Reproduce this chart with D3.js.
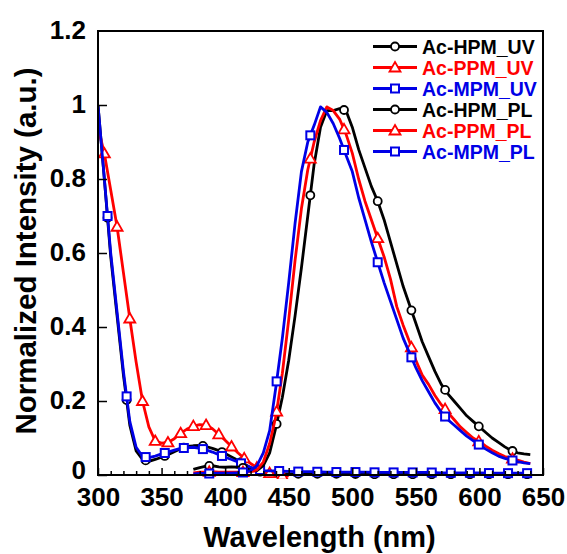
<!DOCTYPE html>
<html><head><meta charset="utf-8">
<script src="https://cdn.jsdelivr.net/npm/d3@7"></script>
<style>
body{margin:0;background:#fff}
svg{display:block}
text{font-family:"Liberation Sans",Arial,Helvetica,sans-serif;font-weight:bold}
</style>
</head><body>
<svg id="chart" width="567" height="554"></svg>
<script>
// ---------------- DATA ----------------
const seriesNames = ["Ac-HPM_UV","Ac-PPM_UV","Ac-MPM_UV","Ac-HPM_PL","Ac-PPM_PL","Ac-MPM_PL"];
const xTicks = [300,350,400,450,500,550,600,650];
const yTicks = [0,0.2,0.4,0.6,0.8,1.0,1.2];

// UV absorption (HPM, MPM)
const uvWavelength = [300,305,310,315,320,325,330,335,340,345,350,355,360,365,370,375,380,385,390,395,400,405,410,415,420,425,430,435,
  440,450,460,470,480,490,500,510,520,530,540,550,560,570,580,590,600,610,620,630,640];
const hpmUV = [1.0,0.80,0.59,0.43,0.27,0.135,0.065,0.042,0.037,0.042,0.048,0.055,0.063,0.071,0.077,0.079,0.080,0.077,0.072,0.066,0.058,0.049,0.040,0.030,0.020,0.012,0.006,0.004,
  0.003,0.003,0.003,0.003,0.003,0.003,0.003,0.002,0.002,0.002,0.002,0.002,0.002,0.002,0.002,0.002,0.002,0.002,0.002,0.002,0.002];
const mpmUV = [1.0,0.80,0.60,0.44,0.28,0.145,0.075,0.050,0.047,0.051,0.057,0.062,0.067,0.072,0.074,0.075,0.072,0.068,0.062,0.055,0.048,0.042,0.035,0.028,0.021,0.015,0.012,0.011,
  0.011,0.010,0.009,0.009,0.008,0.008,0.008,0.008,0.007,0.007,0.007,0.007,0.007,0.006,0.006,0.006,0.006,0.005,0.005,0.005,0.005];
// UV absorption (PPM)
const ppmUVWavelength = [300,305,310,315,320,325,330,335,340,345,350,355,360,365,370,375,380,385,390,395,400,405,410,415,420,425,430,435,440,445,450];
const ppmUV = [0.94,0.869,0.77,0.671,0.547,0.423,0.305,0.200,0.130,0.092,0.086,0.088,0.098,0.113,0.124,0.132,0.136,0.135,0.125,0.110,0.094,0.077,0.060,0.045,0.031,0.020,0.011,0.005,0.001,-0.002,-0.002];

// PL emission
const plWavelength = [375,380,385,390,395,400,405,410,415,420,425,430,435,440,445,450,455,460,465,470,475,480,485,490,495,500,
  505,510,515,520,525,530,535,540,545,550,555,560,565,570,575,580,585,590,595,600,605,610,615,620,625,630,635,640];
const hpmPL = [0.015,0.020,0.024,0.025,0.022,0.021,0.022,0.021,0.019,0.013,0.012,0.025,0.060,0.130,0.210,0.310,0.430,0.560,0.700,0.840,0.940,0.985,0.985,0.990,0.985,0.940,
  0.880,0.830,0.780,0.740,0.690,0.630,0.570,0.510,0.460,0.410,0.360,0.320,0.280,0.245,0.220,0.200,0.180,0.160,0.145,0.130,0.115,0.100,0.088,0.076,0.066,0.060,0.057,0.055];
const ppmPL = [0.006,0.008,0.008,0.009,0.008,0.008,0.008,0.008,0.008,0.009,0.014,0.035,0.085,0.160,0.275,0.420,0.580,0.720,0.825,0.900,0.958,0.995,0.985,0.962,0.922,0.870,
  0.800,0.740,0.690,0.640,0.590,0.530,0.455,0.405,0.360,0.310,0.270,0.245,0.215,0.190,0.170,0.150,0.130,0.115,0.100,0.090,0.078,0.067,0.058,0.050,0.045,0.040,0.035,0.031];
const mpmPL = [0.003,0.004,0.004,0.004,0.005,0.005,0.005,0.006,0.007,0.012,0.025,0.060,0.120,0.240,0.370,0.520,0.680,0.820,0.900,0.945,0.995,0.980,0.950,0.910,0.865,0.820,
  0.750,0.690,0.630,0.575,0.520,0.470,0.420,0.370,0.330,0.290,0.255,0.225,0.195,0.170,0.150,0.135,0.120,0.105,0.093,0.081,0.070,0.060,0.051,0.045,0.040,0.036,0.033,0.031];

// wavelengths where symbols are drawn
const uvMarkerWavelength = [307.5,322.5,337.5,352.5,367.5,382.5,397.5,412.5,427.5,442.5,457.5,472.5,487.5,502.5,517.5,532.5,547.5,562.5,577.5,592.5,607.5,622.5,637.5];
const ppmUVMarkerWavelength = [305,315,325,335,345,355,365,375,385,395,405,415,425,435,445];
const plMarkerWavelength = [387.5,414,440.5,467,493.5,520,546.5,573,599.5,626];

// ---------------- CHART ----------------
const svg = d3.select("#chart");
const mLeft = 98, mRight = 543, mTop = 31, mBottom = 475;
const x = d3.scaleLinear().domain([300,650]).range([mLeft,mRight]);
const y = d3.scaleLinear().domain([0,1.2]).range([mBottom,mTop]);

const BLACK = "#000000", RED = "#ff0000", BLUE = "#0000e6";

const series = [
  {name:seriesNames[0], wl:uvWavelength, v:hpmUV, color:BLACK, shape:"circle", marks:uvMarkerWavelength},
  {name:seriesNames[1], wl:ppmUVWavelength, v:ppmUV, color:RED, shape:"triangle", marks:ppmUVMarkerWavelength},
  {name:seriesNames[2], wl:uvWavelength, v:mpmUV, color:BLUE, shape:"square", marks:uvMarkerWavelength},
  {name:seriesNames[3], wl:plWavelength, v:hpmPL, color:BLACK, shape:"circle", marks:plMarkerWavelength},
  {name:seriesNames[4], wl:plWavelength, v:ppmPL, color:RED, shape:"triangle", marks:plMarkerWavelength},
  {name:seriesNames[5], wl:plWavelength, v:mpmPL, color:BLUE, shape:"square", marks:plMarkerWavelength}
];

function interp(wl, v, w){
  for(let i=0;i<wl.length-1;i++){
    if(w>=wl[i] && w<=wl[i+1]){
      const t=(w-wl[i])/(wl[i+1]-wl[i]);
      return v[i]+t*(v[i+1]-v[i]);
    }
  }
  return v[v.length-1];
}

function drawMarker(g, shape, cx, cy, color){
  if(shape==="circle"){
    g.append("circle").attr("cx",cx).attr("cy",cy).attr("r",4)
      .attr("fill","#fff").attr("stroke",color).attr("stroke-width",1.8);
  } else if(shape==="square"){
    g.append("rect").attr("x",cx-4).attr("y",cy-4).attr("width",8).attr("height",8)
      .attr("fill","#fff").attr("stroke",color).attr("stroke-width",2);
  } else {
    g.append("path").attr("d",`M${cx},${cy-5.5}L${cx+5.5},${cy+4}L${cx-5.5},${cy+4}Z`)
      .attr("fill","#fff").attr("stroke",color).attr("stroke-width",1.8).attr("stroke-linejoin","miter");
  }
}

// clip
svg.append("defs").append("clipPath").attr("id","clip")
  .append("rect").attr("x",mLeft).attr("y",mTop).attr("width",mRight-mLeft).attr("height",mBottom-mTop+4);

const plot = svg.append("g").attr("clip-path","url(#clip)");
const line = d3.line().x(d=>x(d[0])).y(d=>y(d[1]));

series.forEach(s=>{
  const pts = s.wl.map((w,i)=>[w,s.v[i]]);
  plot.append("path").datum(pts).attr("d",line)
    .attr("fill","none").attr("stroke",s.color).attr("stroke-width",2.8).attr("stroke-linejoin","round");
  const mg = plot.append("g");
  s.marks.forEach(w=>{
    drawMarker(mg, s.shape, x(w), y(interp(s.wl,s.v,w)), s.color);
  });
});

// axes
const xMinor = d3.range(310,650,10).filter(v=>v%50!==0);
svg.append("g").attr("transform",`translate(0,${mBottom})`)
  .call(d3.axisBottom(x).tickValues(xMinor).tickSize(-4).tickFormat(""))
  .call(g=>g.select(".domain").remove())
  .call(g=>g.selectAll("line").attr("stroke","#000").attr("stroke-width",1.5));

const xAxis = svg.append("g").attr("transform",`translate(0,${mBottom})`)
  .call(d3.axisBottom(x).tickValues(xTicks).tickSize(-7).tickPadding(13).tickFormat(d3.format("d")))
  .call(g=>g.select(".domain").remove());
xAxis.selectAll("line").attr("stroke","#000").attr("stroke-width",1.5);
xAxis.selectAll("text").attr("font-size",26).attr("fill","#000")
  .style("font-family",'"Liberation Sans",Arial,sans-serif').style("font-weight","bold");

const yAxis = svg.append("g").attr("transform",`translate(${mLeft},0)`)
  .call(d3.axisLeft(y).tickValues(yTicks.filter(v=>v<1.2)).tickSize(-9).tickPadding(12)
    .tickFormat(v=> (v===0?"0":(v===1?"1":d3.format(".1f")(v)))))
  .call(g=>g.select(".domain").remove());
yAxis.selectAll("line").attr("stroke","#000").attr("stroke-width",1.5);
yAxis.selectAll("text").attr("font-size",26).attr("fill","#000")
  .attr("dy", d => d===0 ? "0.12em" : "0.3em")
  .style("font-family",'"Liberation Sans",Arial,sans-serif').style("font-weight","bold");
// top label 1.2 (at frame edge)
svg.append("text").attr("x",mLeft-12).attr("y",y(1.2)).attr("dy","0.3em")
  .attr("text-anchor","end").attr("font-size",26).text(d3.format(".1f")(yTicks[yTicks.length-1]));

// frame
svg.append("rect").attr("x",mLeft).attr("y",mTop).attr("width",mRight-mLeft).attr("height",mBottom-mTop)
  .attr("fill","none").attr("stroke","#000").attr("stroke-width",2);

// axis titles
svg.append("text").attr("x",(mLeft+mRight)/2 - 1).attr("y",547).attr("text-anchor","middle")
  .attr("font-size",29).text("Wavelength (nm)");
svg.append("text").attr("transform",`translate(36,${(mTop+mBottom)/2 - 2}) rotate(-90)`)
  .attr("text-anchor","middle").attr("font-size",29.5).text("Normalized Intensity (a.u.)");

// legend
const lg = svg.append("g");
series.forEach((s,i)=>{
  const ly = 46.5 + i*21;
  lg.append("line").attr("x1",373).attr("x2",417).attr("y1",ly).attr("y2",ly)
    .attr("stroke",s.color).attr("stroke-width",2.8);
  drawMarker(lg, s.shape, 395, ly, s.color);
  lg.append("text").attr("x",422).attr("y",ly+7).attr("font-size",19.5).attr("fill",s.color).text(s.name);
});
</script>
</body></html>
